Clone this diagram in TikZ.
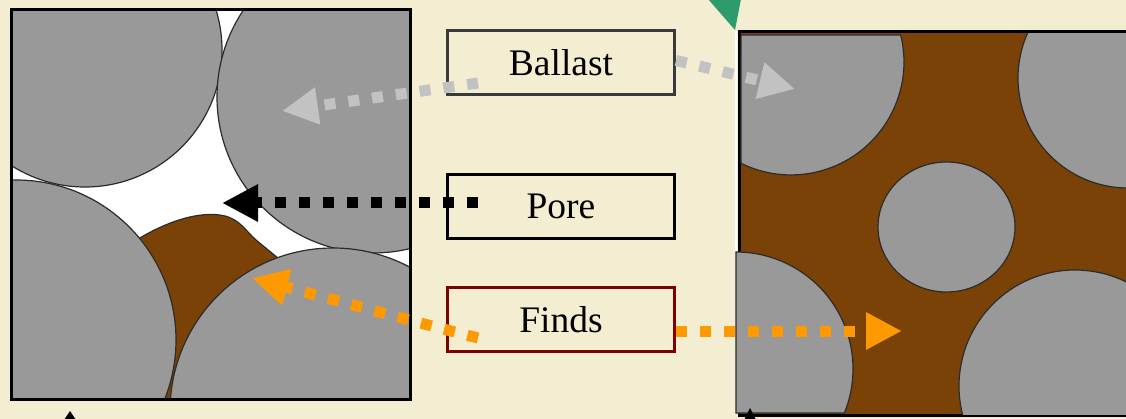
\documentclass[tikz,border=0pt]{standalone}
\usepackage{fontspec}
\setmainfont{Liberation Serif}
\usetikzlibrary{arrows.meta,calc}
\definecolor{bgc}{HTML}{F3EDD1}
\definecolor{stonegray}{HTML}{999999}
\definecolor{soil}{HTML}{7A4206}
\definecolor{edgec}{HTML}{2B2B2B}
\definecolor{ballastc}{HTML}{C2C2C2}
\definecolor{findsc}{HTML}{FF9900}
\definecolor{boxred}{HTML}{800000}
\definecolor{boxgray}{HTML}{3A3A3A}
\definecolor{tipgreen}{HTML}{2E9C6A}
\begin{document}
\begin{tikzpicture}[x=1pt,y=-1pt,
  stone/.style={fill=stonegray, draw=edgec, line width=1.2pt},
  panelframe/.style={draw=black, line width=3pt},
  lbl/.style={draw, line width=2.6pt, minimum width=227.4pt, minimum height=64.4pt, inner sep=0pt, text=black, font=\fontsize{37.5}{40}\selectfont},
  dotarrow/.style={line width=11pt, dash pattern=on 11pt off 13pt, -{Triangle[length=36pt,width=35pt]}}]
\useasboundingbox (0,0) rectangle (1126,419);
\fill[bgc] (0,0) rectangle (1126,419);

% left panel
\begin{scope}
  \clip (11,10) rectangle (410,399.5);
  \fill[white] (11,10) rectangle (410,399.5);
  \filldraw[fill=soil, draw=edgec, line width=1.2pt] (135,241) .. controls (165,222) and (200,210) .. (225,216) .. controls (240,220) and (245,230) .. (256,240) -- (290,268) -- (200,400) -- (130,400) -- cycle;
  \draw[stone] (85,50) circle[radius=137];
  \draw[stone] (373,97) circle[radius=156];
  \draw[stone] (16,340) circle[radius=160];
  \draw[stone] (333,411) circle[radius=163];
\end{scope}
\draw[panelframe] (11,10) rectangle (410,399.5);

% right panel
\filldraw[fill=soil, panelframe] (739,32) rectangle (1140,415.5);
\draw[white, line width=2pt] (736.2,31) -- (736.2,253);
\begin{scope}
  \clip (740.5,33.5) rectangle (1130,414);
  \draw[stone] (1128,78) circle[radius=110];
  \draw[stone] (1075,386) circle[radius=116];
\end{scope}
\draw[stone] (946.5,227) ellipse[x radius=68.5, y radius=65];
\draw[stone] (741,35) -- (900.7,35) arc[start angle=-13.8, end angle=116.3, radius=113] -- cycle;
\draw[stone] (736,252) arc[start angle=-90, end angle=22.1, radius=117] -- (736,413) -- cycle;

% small tips
\fill[black] (64,420) -- (70,411) -- (76,420) -- cycle;
\fill[black] (744,420) -- (750,408) -- (756,420) -- cycle;
\fill[tipgreen] (708,-1) -- (741,-1) -- (735,30) -- cycle;

% labels
\node[lbl, draw=boxgray] (ballast) at (561,62.5) {Ballast};
\node[lbl, draw=black] (pore) at (561,206.5) {Pore};
\node[lbl, draw=boxred] (finds) at (561,319.5) {Finds};

\coordinate (bl) at (282,111);
\coordinate (pl) at (222,203);
\coordinate (fl) at (252,278);
\coordinate (br) at (795,89);
\coordinate (fr) at (902,331);

\draw[dotarrow, ballastc] ($(ballast.west)+(32,20.5)$) -- (bl);
\draw[dotarrow, ballastc] ($(ballast.east)+(0,-2)$) -- (br);
\draw[dotarrow, black] ($(pore.west)+(32,-3.5)$) -- (pl);
\draw[dotarrow, findsc] ($(finds.west)+(32,18.5)$) .. controls (400,318) and (320,296) .. (fl);
\draw[dotarrow, findsc] ($(finds.east)+(0,11.5)$) -- (fr);
\end{tikzpicture}
\end{document}
